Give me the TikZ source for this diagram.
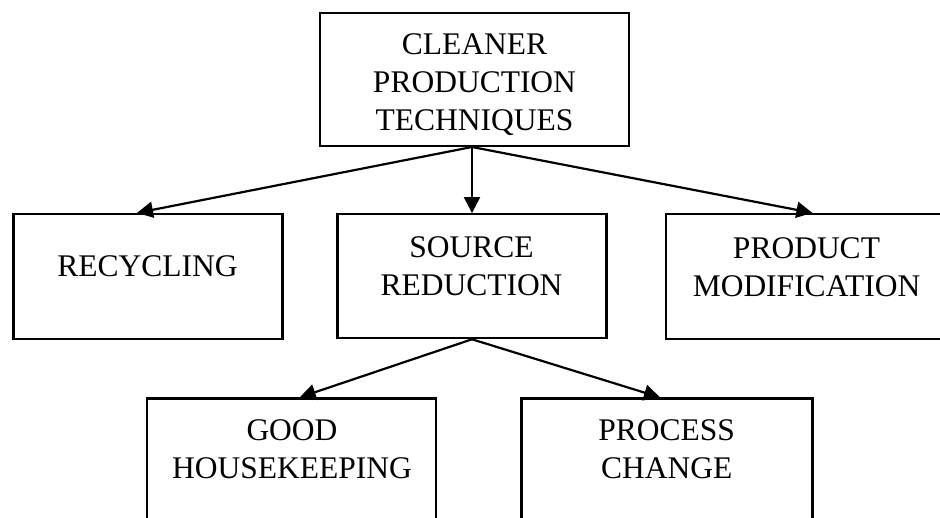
\documentclass[tikz,border=0pt]{standalone}
\usepackage{fontspec}
\setmainfont{Liberation Serif}
\usetikzlibrary{arrows.meta,calc}

\tikzset{
  box/.style={draw=black, line width=2.2pt, inner sep=0pt, fill=none},
  boxtext/.style={anchor=north, inner sep=0pt, align=center,
    font=\fontsize{31.5}{38}\selectfont},
  link/.style={line width=2.2pt, -{Triangle[length=16pt,width=16pt]}}
}

\begin{document}
\begin{tikzpicture}[x=1pt,y=-1pt]
  \useasboundingbox (0,0) rectangle (940,518);
  \clip (0,0) rectangle (940,518);
  \fill[white] (0,0) rectangle (940,518);

  % boxes
  \node[box, minimum width=309, minimum height=133] (top) at (474.5,79.4) {};
  \node[box, minimum width=269, minimum height=125] (rec) at (148,276.5) {};
  \node[box, minimum width=269, minimum height=124] (src) at (472,276.2) {};
  \node[box, minimum width=275, minimum height=125] (prod) at (803.4,276.5) {};
  \node[box, minimum width=289, minimum height=125] (good) at (291.7,461) {};
  \node[box, minimum width=291, minimum height=125] (proc) at (667,461) {};

  % labels
  \node[boxtext] (toptext) at (474.5,33) {CLEANER\\PRODUCTION\\TECHNIQUES};
  \node[boxtext] (rectext) at (147.5,255) {RECYCLING};
  \node[boxtext] (srctext) at (471.5,236.5) {SOURCE\\REDUCTION};
  \node[boxtext] (prodtext) at (806.5,237) {PRODUCT\\MODIFICATION};
  \node[boxtext] (goodtext) at (292,419.5) {GOOD\\HOUSEKEEPING};
  \node[boxtext] (proctext) at (666.7,419.5) {PROCESS\\CHANGE};

  % connectors, all leaving from one point under the top box
  \coordinate (fork) at (src.north |- top.south);
  \draw[link] (fork) -- ($(rec.north)+(-11,0)$);
  \draw[link] (fork) -- (src.north);
  \draw[link] (fork) -- ($(prod.north)+(9,0)$);
  \draw[link] (src.south) -- ($(good.north)+(8,0)$);
  \draw[link] (src.south) -- ($(proc.north)+(-7,0)$);
\end{tikzpicture}
\end{document}
